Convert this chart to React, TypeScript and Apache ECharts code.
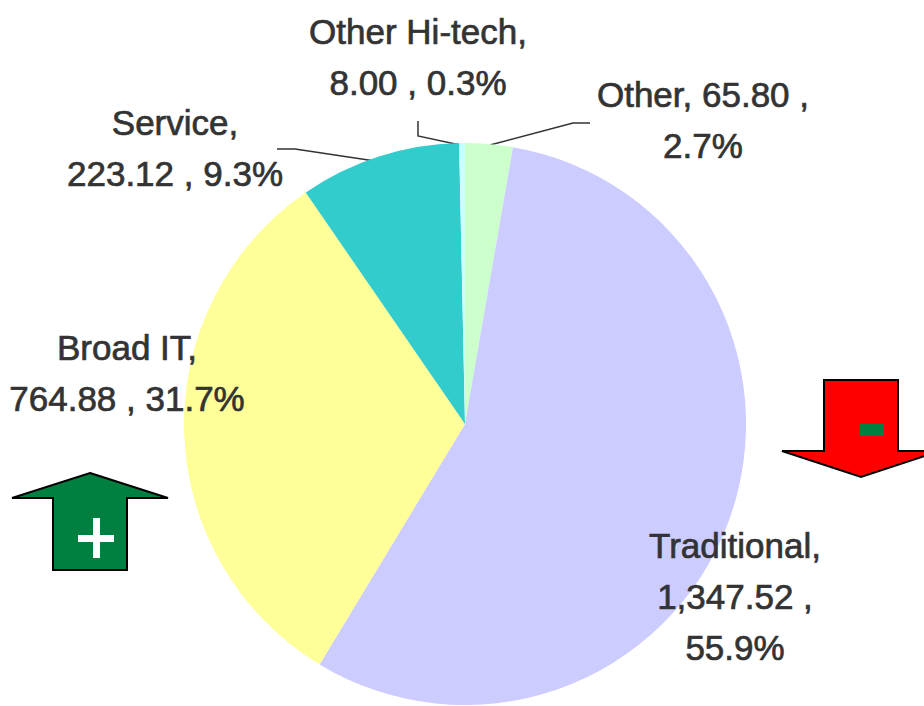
import React, { useEffect, useRef } from "react";
import * as echarts from "echarts";

// Slices in clockwise order from 12 o'clock
const names = ["Other", "Traditional", "Broad IT", "Service", "Other Hi-tech"];
const values = [65.8, 1347.52, 764.88, 223.12, 8.0];
const colors = ["#CCFFCC", "#CCCCFF", "#FFFF99", "#33CCCC", "#CCFFFF"];
// label line-break pattern: after "name," and after "value ,"
const breakAfterName = [false, true, true, true, true];
const breakAfterValue = [true, true, false, false, false];

// layout constants (label centres, px)
const labelCenters: number[][] = [
  [703, 120],
  [735, 596],
  [127, 373],
  [175, 148],
  [418, 57],
];

const total = values.reduce((a, b) => a + b, 0);

function fmtValue(v: number) {
  return v.toLocaleString("en-US", { minimumFractionDigits: 2, maximumFractionDigits: 2 });
}

export default function App() {
  const ref = useRef<HTMLDivElement>(null);
  useEffect(() => {
    if (!ref.current) return;
    const chart = echarts.init(ref.current, undefined, { renderer: "svg" });
    const lineStyle = { stroke: "#333", lineWidth: 1.5, fill: "none" };
    chart.setOption({
      animation: false,
      backgroundColor: "#ffffff",
      series: [
        {
          type: "pie",
          center: [465, 424],
          radius: 281,
          startAngle: 90,
          clockwise: true,
          avoidLabelOverlap: false,
          silent: true,
          data: names.map((n, i) => ({
            name: n,
            value: values[i],
            itemStyle: { color: colors[i] },
          })),
          label: {
            show: true,
            position: "outside",
            fontFamily: "Liberation Sans",
            fontSize: 35,
            lineHeight: 51,
            color: "#333333",
            textBorderColor: "#333333",
            textBorderWidth: 0.7,
            align: "center",
            formatter: (p: any) => {
              const i = p.dataIndex;
              const pct = ((values[i] / total) * 100).toFixed(1) + "%";
              return (
                names[i] +
                "," +
                (breakAfterName[i] ? "\n" : " ") +
                fmtValue(values[i]) +
                " ," +
                (breakAfterValue[i] ? "\n" : " ") +
                pct
              );
            },
          },
          labelLine: { show: false },
          labelLayout: (p: any) => {
            const c = labelCenters[p.dataIndex];
            return { x: c[0], y: c[1], align: "center", verticalAlign: "middle" };
          },
        },
      ],
      graphic: [
        // leader lines
        { type: "polyline", silent: true, shape: { points: [[418, 121], [418, 136], [460, 145]] }, style: lineStyle },
        { type: "polyline", silent: true, shape: { points: [[490, 145], [573, 123], [590, 123]] }, style: lineStyle },
        { type: "polyline", silent: true, shape: { points: [[277, 149], [295, 149], [375, 161]] }, style: lineStyle },
        // green up arrow
        {
          type: "polygon",
          silent: true,
          shape: { points: [[90, 473], [168, 498], [127, 498], [127, 570], [53, 570], [53, 498], [12, 498]] },
          style: { fill: "#008040", stroke: "#000", lineWidth: 2 },
        },
        { type: "rect", silent: true, shape: { x: 78, y: 535, width: 36, height: 7 }, style: { fill: "#ffffff" } },
        { type: "rect", silent: true, shape: { x: 93, y: 518, width: 7, height: 40 }, style: { fill: "#ffffff" } },
        // red down arrow
        {
          type: "polygon",
          silent: true,
          shape: { points: [[824, 380], [898, 380], [898, 451], [940, 451], [861, 477], [782, 451], [824, 451]] },
          style: { fill: "#FF0000", stroke: "#000", lineWidth: 2 },
        },
        { type: "rect", silent: true, shape: { x: 860, y: 424, width: 24, height: 12 }, style: { fill: "#008040" } },
      ],
    });
    return () => chart.dispose();
  }, []);
  return (
    <div
      ref={ref}
      style={{ position: "fixed", left: 0, top: 0, width: 924, height: 706 }}
    />
  );
}
